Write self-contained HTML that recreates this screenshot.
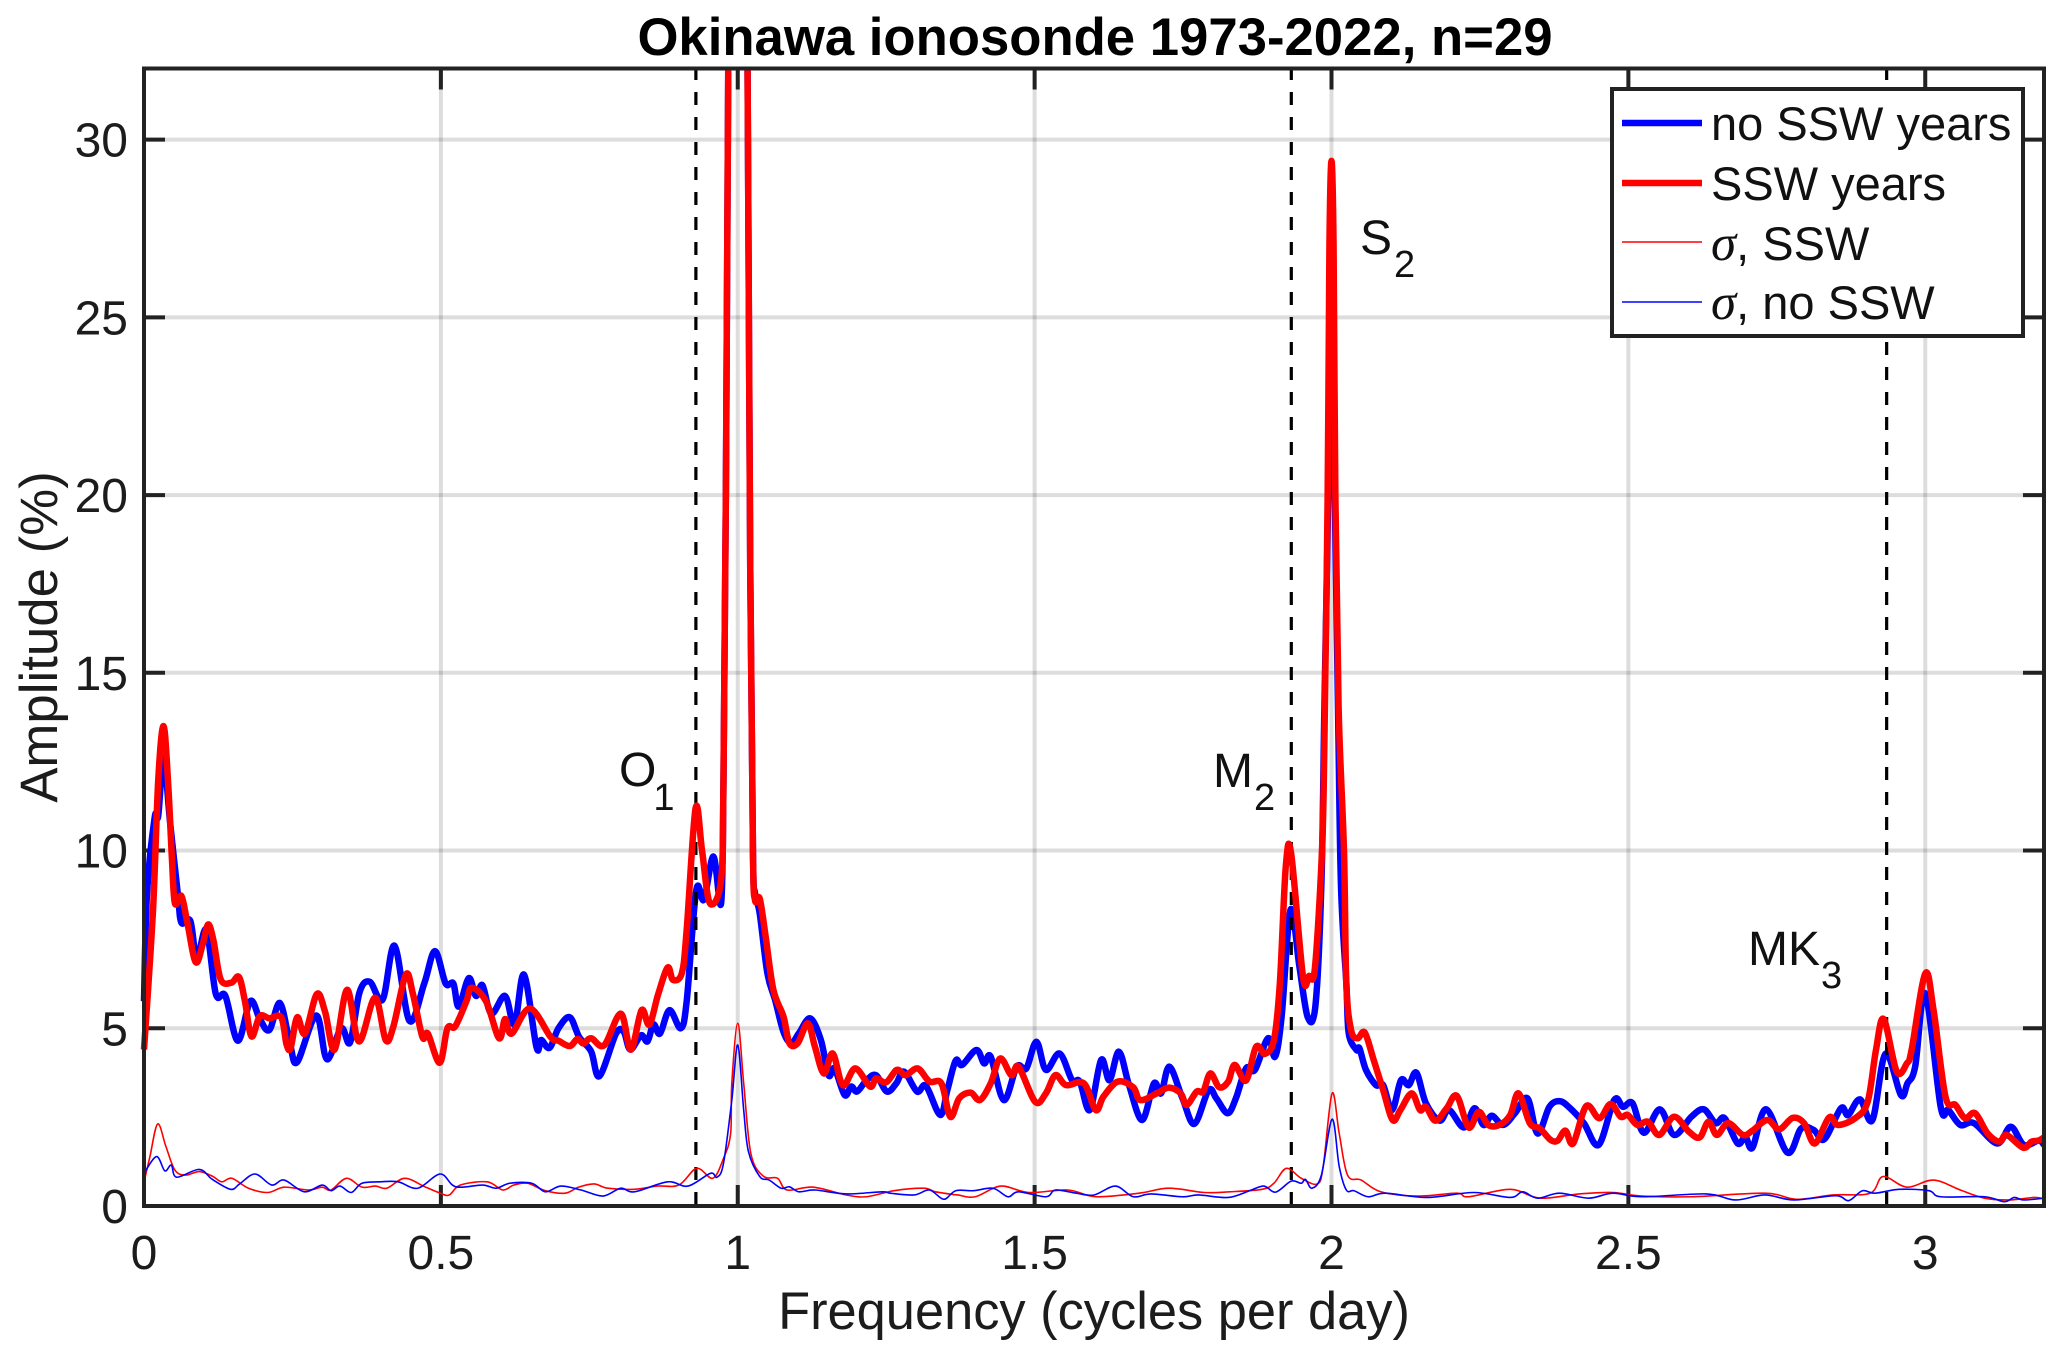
<!DOCTYPE html>
<html lang="en">
<head>
<meta charset="utf-8">
<title>Okinawa ionosonde 1973-2022, n=29</title>
<style>
html,body{margin:0;padding:0;background:#fff;width:2067px;height:1361px;overflow:hidden}
svg{display:block}
text{font-family:"Liberation Sans",Arial,sans-serif;fill:#1c1c1c}
.tick-label{font-size:48px}
.note{font-size:48px;fill:#111}
.sub{font-size:38px;fill:#111}
.leg{font-size:47px;fill:#111}
.sigma{font-family:"Liberation Serif",serif;font-style:italic;font-size:51px}
</style>
</head>
<body>
<svg id="chart" xmlns="http://www.w3.org/2000/svg" width="2067" height="1361" viewBox="0 0 2067 1361">
  <defs>
    <clipPath id="plot-clip"><rect x="140" y="70" width="1908" height="0"/></clipPath>
  </defs>
  <rect x="0" y="0" width="2067" height="1361" fill="#fff"/>
  <g id="grid"></g>
  <g id="ticks"></g>
  <g clip-path="url(#plot-clip)">
    <path id="line-no-ssw" fill="none" stroke="#0000ff" stroke-width="6.5" stroke-linejoin="round"/>
    <g id="dashes"></g>
    <path id="line-ssw" fill="none" stroke="#ff0000" stroke-width="6.5" stroke-linejoin="round"/>
    <path id="line-sigma-ssw" fill="none" stroke="#ff0000" stroke-width="1.6" stroke-linejoin="round"/>
    <path id="line-sigma-no-ssw" fill="none" stroke="#0000ff" stroke-width="1.6" stroke-linejoin="round"/>
  </g>
  <rect id="frame" fill="none" stroke="#222" stroke-width="4"/>
  <g id="tick-labels"></g>

  <text x="1095" y="55" text-anchor="middle" font-size="52.7" font-weight="bold" style="fill:#000">Okinawa ionosonde 1973-2022, n=29</text>
  <text x="1094" y="1329" text-anchor="middle" font-size="52.4">Frequency (cycles per day)</text>
  <text transform="translate(57 637) rotate(-90)" text-anchor="middle" font-size="52.8">Amplitude (%)</text>

  <text class="note" x="619" y="786">O<tspan class="sub" dx="-3" dy="24">1</tspan></text>
  <text class="note" x="1213" y="787">M<tspan class="sub" dx="1" dy="23">2</tspan></text>
  <text class="note" x="1360" y="254">S<tspan class="sub" dx="2" dy="23">2</tspan></text>
  <text class="note" x="1748" y="965">MK<tspan class="sub" dx="1" dy="23">3</tspan></text>

  <g>
    <rect x="1612" y="89" width="411" height="247" fill="#fff" stroke="#222" stroke-width="4"/>
    <line x1="1622" x2="1702" y1="123" y2="123" stroke="#0000ff" stroke-width="6.5"/>
    <text class="leg" x="1711" y="140">no SSW years</text>
    <line x1="1622" x2="1702" y1="183" y2="183" stroke="#ff0000" stroke-width="6.5"/>
    <text class="leg" x="1711" y="200">SSW years</text>
    <line x1="1622" x2="1702" y1="242" y2="242" stroke="#ff0000" stroke-width="1.6"/>
    <text class="leg" x="1711" y="260"><tspan class="sigma">σ</tspan>, SSW</text>
    <line x1="1622" x2="1702" y1="302" y2="302" stroke="#0000ff" stroke-width="1.6"/>
    <text class="leg" x="1711" y="319"><tspan class="sigma">σ</tspan>, no SSW</text>
  </g>
</svg>

<script>
const xTicks = [0, 0.5, 1, 1.5, 2, 2.5, 3];
const xTickLabels = ['0', '0.5', '1', '1.5', '2', '2.5', '3'];
const yTicks = [0, 5, 10, 15, 20, 25, 30];
const yTickLabels = ['0', '5', '10', '15', '20', '25', '30'];
const tidalFreqs = [0.9295, 1.9323, 2.935];

const sswFreq = [0,.015,.024,.033,.041,.047,.052,.063,.073,.087,.099,.108,.117,.129,.147,.160,.170,.181,.195,.211,.231,.240,.247,.258,.271,.291,.305,.321,.342,.362,.389,.407,.420,.441,.453,.469,.478,.498,.511,.524,.543,.552,.576,.598,.608,.619,.650,.685,.698,.717,.730,.740,.753,.775,.803,.820,.838,.851,.866,.882,.891,.906,.914,.929,.940,.953,.972,.976,.980,.984,.990,1.0,1.01,1.0165,1.021,1.0256,1.029,1.037,1.047,1.060,1.077,1.087,1.101,1.118,1.130,1.145,1.160,1.177,1.198,1.223,1.233,1.250,1.268,1.283,1.303,1.323,1.343,1.358,1.373,1.392,1.408,1.426,1.442,1.461,1.473,1.501,1.519,1.535,1.553,1.583,1.603,1.616,1.640,1.666,1.678,1.706,1.726,1.746,1.756,1.773,1.784,1.796,1.811,1.826,1.837,1.856,1.873,1.888,1.903,1.913,1.923,1.932,1.952,1.962,1.972,1.984,1.988,1.9935,1.9965,2.0,2.0035,2.0065,2.012,2.021,2.025,2.033,2.044,2.056,2.071,2.087,2.103,2.116,2.135,2.149,2.159,2.175,2.194,2.211,2.231,2.248,2.264,2.283,2.301,2.315,2.334,2.351,2.369,2.381,2.394,2.407,2.429,2.451,2.470,2.487,2.499,2.515,2.533,2.552,2.577,2.602,2.620,2.635,2.649,2.668,2.693,2.709,2.734,2.754,2.777,2.796,2.814,2.838,2.853,2.882,2.903,2.917,2.930,2.952,2.969,2.977,3.0,3.014,3.034,3.051,3.067,3.084,3.105,3.125,3.137,3.165,3.179,3.191,3.2];
const sswAmp = [4.40,8.27,11.99,13.50,11.79,9.78,8.52,8.72,7.97,6.86,7.37,7.92,7.47,6.38,6.28,6.44,5.76,4.77,5.34,5.28,5.31,4.55,4.45,5.31,4.85,5.96,5.46,4.40,6.08,4.63,5.86,4.67,5.05,6.51,5.96,4.75,4.85,4.03,5.00,5.05,5.76,6.14,5.76,4.72,5.26,4.85,5.56,4.75,4.65,4.50,4.70,4.57,4.72,4.52,5.41,4.40,5.51,5.10,5.96,6.71,6.36,6.56,7.77,11.19,9.98,8.52,9.18,12,20,32,50,70,50,32,18,10,8.61,8.65,7.58,6.08,5.33,4.58,4.58,5.14,4.48,3.73,4.29,3.40,3.87,3.36,3.59,3.48,3.83,3.68,3.87,3.50,3.45,2.51,3.03,3.19,2.98,3.45,4.15,3.68,3.92,2.93,3.17,3.68,3.40,3.45,2.70,3.08,3.50,3.34,2.98,3.17,3.33,3.17,2.84,3.22,3.22,3.73,3.34,3.50,3.97,3.53,4.48,4.28,4.67,6.26,9.55,9.92,6.45,6.47,6.69,10.0,13,20,27,29.4,27,20,14,10.0,6.26,4.95,4.72,4.88,4.11,3.26,2.42,2.70,3.17,2.70,2.79,2.40,2.75,3.10,2.21,2.65,2.28,2.28,2.56,3.17,2.33,2.18,1.86,1.84,2.12,1.76,2.81,2.47,2.87,2.51,2.56,2.28,2.37,2.00,2.51,2.09,1.93,2.37,2.00,2.33,2.00,2.12,2.42,2.16,2.48,2.33,1.76,2.49,2.28,2.47,2.93,4.39,5.26,3.78,4.01,4.39,6.54,5.51,3.08,2.84,2.47,2.61,2.04,1.81,2.00,1.64,1.81,1.84,1.93];

const noSswFreq = [0,.005,.018,.024,.033,.044,.057,.063,.078,.089,.105,.121,.137,.158,.179,.195,.211,.229,.246,.258,.290,.308,.332,.347,.363,.380,.402,.422,.447,.472,.490,.508,.521,.530,.547,.559,.570,.585,.608,.624,.640,.661,.669,.683,.698,.717,.733,.753,.767,.795,.808,.819,.837,.848,.858,.869,.885,.904,.914,.930,.943,.959,.972,.976,.980,.984,.990,1.0,1.01,1.0165,1.021,1.0256,1.029,1.037,1.050,1.063,1.077,1.090,1.103,1.122,1.140,1.153,1.163,1.180,1.191,1.201,1.217,1.233,1.251,1.267,1.280,1.302,1.317,1.341,1.353,1.367,1.378,1.402,1.415,1.426,1.448,1.470,1.486,1.503,1.519,1.542,1.563,1.576,1.593,1.612,1.626,1.642,1.659,1.681,1.701,1.713,1.727,1.749,1.769,1.793,1.806,1.825,1.839,1.856,1.871,1.893,1.905,1.916,1.931,1.946,1.960,1.973,1.983,1.988,1.9945,2.0,2.0055,2.011,2.016,2.025,2.029,2.042,2.047,2.058,2.075,2.087,2.102,2.117,2.130,2.143,2.159,2.182,2.198,2.223,2.241,2.256,2.270,2.289,2.309,2.330,2.347,2.367,2.384,2.400,2.425,2.450,2.476,2.491,2.507,2.526,2.553,2.577,2.606,2.627,2.647,2.662,2.684,2.697,2.709,2.732,2.768,2.791,2.812,2.830,2.858,2.870,2.890,2.911,2.933,2.959,2.970,2.983,3.0,3.026,3.039,3.059,3.082,3.121,3.144,3.166,3.191,3.2];
const noSswAmp = [5.76,8.77,10.93,10.98,12.6,10.78,8.77,7.97,8.02,6.96,7.77,5.96,5.91,4.65,5.76,5.26,4.95,5.71,4.55,4.05,5.36,4.13,5.00,4.60,6.01,6.31,5.81,7.32,5.21,6.26,7.17,6.26,6.26,5.61,6.41,5.91,6.21,5.41,5.91,5.11,6.51,4.47,4.67,4.45,5.00,5.31,4.75,4.35,3.65,4.85,4.90,4.40,4.80,4.63,5.11,4.85,5.51,5.00,5.76,8.87,8.62,9.83,8.52,12,20,32,50,70,50,32,18,10,8.80,8.23,6.54,5.79,4.90,4.58,4.86,5.28,4.67,3.68,3.87,3.12,3.36,3.22,3.54,3.68,3.22,3.45,3.78,3.22,3.38,2.56,3.26,4.09,3.97,4.39,4.01,4.20,2.98,3.92,3.87,4.62,3.83,4.29,3.54,3.50,2.70,4.11,3.54,4.34,3.40,2.42,3.45,3.17,3.92,3.03,2.31,3.26,3.03,2.61,3.03,3.87,3.83,4.72,4.20,5.33,8.33,6.73,5.31,5.65,9.08,14,20,26.2,20,14,9,6.26,4.86,4.39,4.44,3.83,3.40,3.40,2.70,3.54,3.40,3.75,2.89,2.40,2.70,2.21,2.75,2.28,2.54,2.28,2.61,3.03,2.04,2.79,2.95,2.78,2.33,1.72,2.98,2.79,2.89,2.06,2.72,2.00,2.51,2.72,2.33,2.47,1.76,1.95,1.64,2.72,1.50,2.18,2.14,1.88,2.75,2.56,3.00,2.42,4.28,3.12,3.45,3.92,5.98,2.79,2.70,2.28,2.33,1.76,2.23,1.72,1.84,1.72];

const sigmaSswFreq = [0,.010,.023,.037,.052,.070,.093,.115,.131,.148,.176,.209,.236,.277,.300,.315,.341,.367,.390,.409,.439,.473,.499,.514,.533,.578,.604,.623,.646,.676,.709,.732,.758,.781,.826,.864,.901,.931,.958,.976,.988,.990,1.0,1.010,1.022,1.043,1.067,1.083,1.127,1.183,1.217,1.263,1.313,1.333,1.370,1.400,1.443,1.490,1.556,1.603,1.676,1.726,1.786,1.829,1.883,1.903,1.924,1.949,1.976,1.986,2.001,2.013,2.027,2.050,2.083,2.145,2.211,2.231,2.301,2.351,2.417,2.474,2.523,2.606,2.730,2.783,2.845,2.907,2.929,2.969,3.014,3.059,3.100,3.141,3.183,3.2];
const sigmaSswAmp = [.68,1.39,2.31,1.67,1.01,.87,.97,.84,.68,.78,.50,.38,.53,.45,.53,.45,.78,.53,.56,.50,.78,.54,.36,.31,.59,.68,.45,.59,.64,.43,.36,.53,.62,.50,.47,.56,.59,1.06,.78,1.34,2.04,3.45,5.14,3.45,1.48,.84,.78,.45,.53,.31,.26,.43,.50,.40,.31,.26,.56,.38,.45,.26,.36,.50,.38,.40,.47,.64,1.06,.78,.62,1.11,3.17,2.04,.87,.73,.40,.28,.36,.26,.47,.22,.34,.38,.28,.26,.36,.19,.31,.36,.83,.53,.73,.45,.22,.17,.24,.20];

const sigmaNoSswFreq = [0,.021,.035,.046,.055,.093,.115,.146,.161,.187,.215,.236,.270,.300,.315,.330,.349,.367,.397,.428,.461,.499,.525,.570,.593,.616,.653,.676,.702,.736,.773,.803,.826,.882,.916,.954,.965,.976,.990,1.0,1.010,1.018,1.037,1.053,1.073,1.087,1.103,1.130,1.183,1.243,1.257,1.297,1.323,1.347,1.367,1.397,1.430,1.455,1.473,1.519,1.535,1.570,1.600,1.636,1.666,1.696,1.749,1.776,1.826,1.862,1.886,1.906,1.932,1.949,1.956,1.967,1.983,2.001,2.013,2.025,2.038,2.062,2.091,2.161,2.239,2.301,2.322,2.347,2.384,2.433,2.474,2.523,2.631,2.680,2.730,2.779,2.849,2.871,2.894,2.915,2.956,3.006,3.026,3.100,3.133,3.150,3.166,3.2];
const sigmaNoSswAmp = [.92,1.39,.99,1.15,.81,1.03,.75,.47,.62,.90,.59,.73,.40,.59,.43,.56,.38,.64,.68,.68,.50,.90,.54,.59,.50,.64,.64,.40,.56,.45,.28,.50,.40,.68,.56,.92,.81,1.20,2.98,4.53,2.70,1.53,.83,.73,.50,.54,.40,.45,.34,.40,.36,.31,.45,.19,.43,.43,.50,.26,.40,.26,.45,.36,.31,.56,.26,.34,.26,.31,.24,.43,.56,.39,.70,.64,.75,.50,.87,2.44,1.11,.45,.43,.26,.36,.24,.38,.24,.40,.22,.36,.22,.36,.26,.34,.17,.31,.17,.29,.15,.43,.36,.47,.43,.26,.26,.12,.24,.17,.22];

const plotLeft = 144, plotRight = 2044, plotTop = 68.5, plotBottom = 1206;
const xMax = 3.2, yMax = 32;
function xScale(f) { return plotLeft + (f / xMax) * (plotRight - plotLeft); }
function yScale(a) { return plotBottom - (a / yMax) * (plotBottom - plotTop); }

const SVG_NS = 'http://www.w3.org/2000/svg';
function svgEl(tag) { return document.createElementNS(SVG_NS, tag); }
function segment(parent, x1, y1, x2, y2, color, width) {
  const el = svgEl('line');
  el.setAttribute('x1', x1);
  el.setAttribute('y1', y1);
  el.setAttribute('x2', x2);
  el.setAttribute('y2', y2);
  el.setAttribute('stroke', color);
  el.setAttribute('stroke-width', width);
  parent.appendChild(el);
  return el;
}

function smoothPath(freqs, amps) {
  const p = freqs.map(function (f, i) { return [xScale(f), yScale(amps[i])]; });
  let d = 'M' + p[0][0].toFixed(2) + ' ' + p[0][1].toFixed(2);
  for (let i = 0; i < p.length - 1; i++) {
    const a = p[Math.max(0, i - 1)], b = p[i], c = p[i + 1], e = p[Math.min(p.length - 1, i + 2)];
    const c1x = b[0] + (c[0] - a[0]) / 6, c1y = b[1] + (c[1] - a[1]) / 6;
    const c2x = c[0] - (e[0] - b[0]) / 6, c2y = c[1] - (e[1] - b[1]) / 6;
    d += 'C' + c1x.toFixed(2) + ' ' + c1y.toFixed(2) + ' ' + c2x.toFixed(2) + ' ' + c2y.toFixed(2) + ' ' + c[0].toFixed(2) + ' ' + c[1].toFixed(2);
  }
  return d;
}

const clip = document.querySelector('#plot-clip rect');
clip.setAttribute('height', plotBottom - 70);

const frame = document.getElementById('frame');
frame.setAttribute('x', plotLeft);
frame.setAttribute('y', plotTop);
frame.setAttribute('width', plotRight - plotLeft);
frame.setAttribute('height', plotBottom - plotTop);

const gridG = document.getElementById('grid');
const ticksG = document.getElementById('ticks');
const labelsG = document.getElementById('tick-labels');
const tickLen = 21, tickColor = '#222', gridColor = 'rgba(0,0,0,0.135)';

xTicks.forEach(function (v, i) {
  const x = xScale(v);
  const g = segment(gridG, x, plotTop, x, plotBottom, gridColor, 4);
  
  
  const t1 = segment(ticksG, x, plotBottom, x, plotBottom - tickLen, tickColor, 4);
  
  
  const t2 = segment(ticksG, x, plotTop, x, plotTop + tickLen, tickColor, 4);
  
  
  const lab = svgEl('text');
  
  
  lab.setAttribute('class', 'tick-label');
  lab.setAttribute('x', x);
  lab.setAttribute('y', 1269);
  lab.setAttribute('text-anchor', 'middle');
  lab.textContent = xTickLabels[i];
  labelsG.appendChild(lab);
});

yTicks.forEach(function (v, i) {
  const y = yScale(v);
  const g = segment(gridG, plotLeft, y, plotRight, y, gridColor, 4);
  
  
  const t1 = segment(ticksG, plotLeft, y, plotLeft + tickLen, y, tickColor, 4);
  
  
  const t2 = segment(ticksG, plotRight, y, plotRight - tickLen, y, tickColor, 4);
  
  
  const lab = svgEl('text');
  
  
  lab.setAttribute('class', 'tick-label');
  lab.setAttribute('x', 128);
  lab.setAttribute('y', y + 17);
  lab.setAttribute('text-anchor', 'end');
  lab.textContent = yTickLabels[i];
  labelsG.appendChild(lab);
});

const dashG = document.getElementById('dashes');
tidalFreqs.forEach(function (f) {
  const x = xScale(f);
  const d = segment(dashG, x, 70, x, plotBottom + 2, '#000', 3.2);
  d.setAttribute('stroke-dasharray', '13 12');
  d.setAttribute('stroke-dashoffset', '3');
  
  
});

document.getElementById('line-no-ssw').setAttribute('d', smoothPath(noSswFreq, noSswAmp));
document.getElementById('line-ssw').setAttribute('d', smoothPath(sswFreq, sswAmp));
document.getElementById('line-sigma-ssw').setAttribute('d', smoothPath(sigmaSswFreq, sigmaSswAmp));
document.getElementById('line-sigma-no-ssw').setAttribute('d', smoothPath(sigmaNoSswFreq, sigmaNoSswAmp));
</script>
</body>
</html>
